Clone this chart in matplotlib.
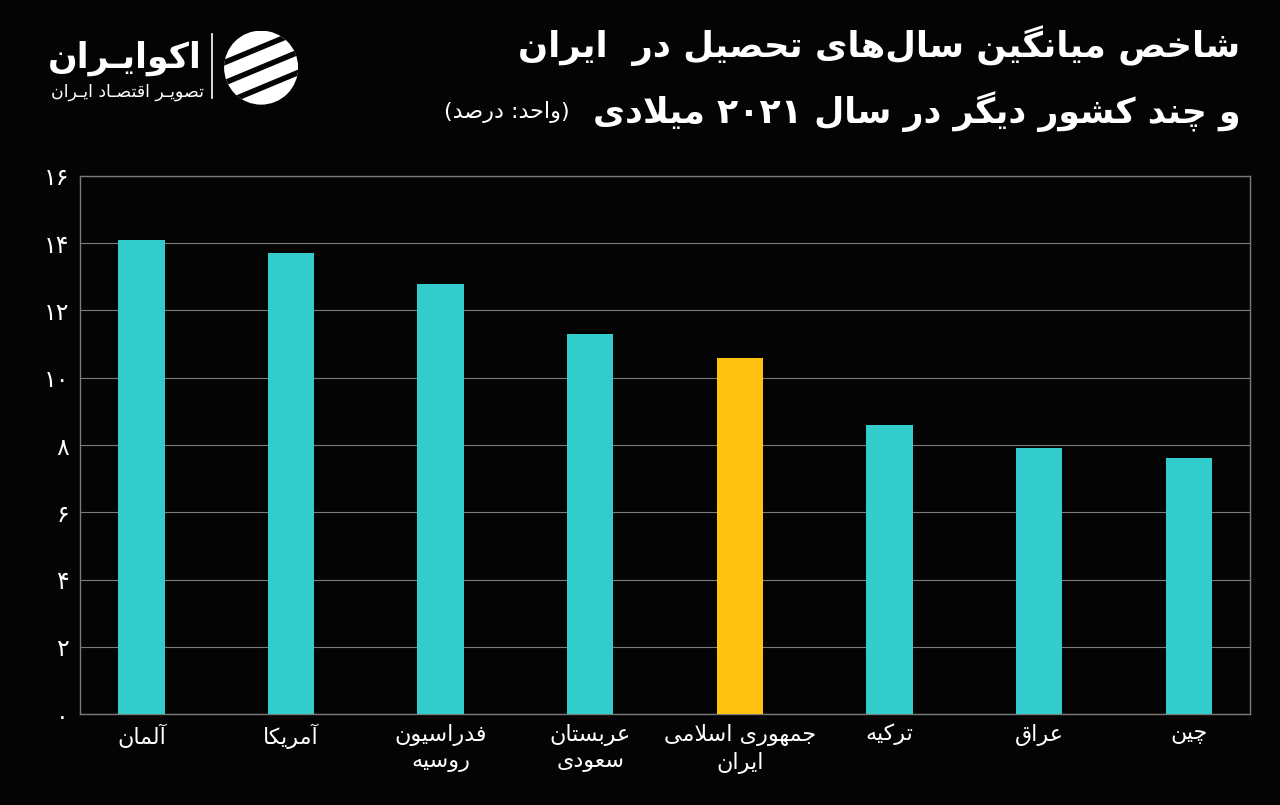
import matplotlib
matplotlib.use("Agg")
import matplotlib.pyplot as plt
from matplotlib.patches import Circle
from matplotlib.ticker import FuncFormatter

# data
countries = ["آلمان", "آمریکا", "فدراسیون\nروسیه", "عربستان\nسعودی",
             "جمهوری اسلامی\nایران", "ترکیه", "عراق", "چین"]
years = [14.1, 13.7, 12.8, 11.3, 10.6, 8.6, 7.9, 7.6]
highlight = "جمهوری اسلامی\nایران"
yticks = [0, 2, 4, 6, 8, 10, 12, 14, 16]

title1 = "شاخص میانگین سال‌های تحصیل در  ایران"
title2 = "و چند کشور دیگر در سال ۲۰۲۱ میلادی"
unit = "(واحد: درصد)"
brand = "اکوایـران"
brand_sub = "تصویـر اقتصـاد ایـران"

BG = "#040404"
TEAL = "#33CCCC"
GOLD = "#FFC20E"
GRID = "#7a7a7a"

# --- tiny arabic/persian shaper (matplotlib has no shaping / bidi) ---
# isolated, final, initial, medial
FORMS = {
    "\u0622": (0xFE81, 0xFE82, None, None),
    "\u0623": (0xFE83, 0xFE84, None, None),
    "\u0627": (0xFE8D, 0xFE8E, None, None),
    "\u0628": (0xFE8F, 0xFE90, 0xFE91, 0xFE92),
    "\u0629": (0xFE93, 0xFE94, None, None),
    "\u062A": (0xFE95, 0xFE96, 0xFE97, 0xFE98),
    "\u062B": (0xFE99, 0xFE9A, 0xFE9B, 0xFE9C),
    "\u062C": (0xFE9D, 0xFE9E, 0xFE9F, 0xFEA0),
    "\u062D": (0xFEA1, 0xFEA2, 0xFEA3, 0xFEA4),
    "\u062E": (0xFEA5, 0xFEA6, 0xFEA7, 0xFEA8),
    "\u062F": (0xFEA9, 0xFEAA, None, None),
    "\u0630": (0xFEAB, 0xFEAC, None, None),
    "\u0631": (0xFEAD, 0xFEAE, None, None),
    "\u0632": (0xFEAF, 0xFEB0, None, None),
    "\u0633": (0xFEB1, 0xFEB2, 0xFEB3, 0xFEB4),
    "\u0634": (0xFEB5, 0xFEB6, 0xFEB7, 0xFEB8),
    "\u0635": (0xFEB9, 0xFEBA, 0xFEBB, 0xFEBC),
    "\u0636": (0xFEBD, 0xFEBE, 0xFEBF, 0xFEC0),
    "\u0637": (0xFEC1, 0xFEC2, 0xFEC3, 0xFEC4),
    "\u0638": (0xFEC5, 0xFEC6, 0xFEC7, 0xFEC8),
    "\u0639": (0xFEC9, 0xFECA, 0xFECB, 0xFECC),
    "\u063A": (0xFECD, 0xFECE, 0xFECF, 0xFED0),
    "\u0640": (0x0640, 0x0640, 0x0640, 0x0640),
    "\u0641": (0xFED1, 0xFED2, 0xFED3, 0xFED4),
    "\u0642": (0xFED5, 0xFED6, 0xFED7, 0xFED8),
    "\u0643": (0xFED9, 0xFEDA, 0xFEDB, 0xFEDC),
    "\u0644": (0xFEDD, 0xFEDE, 0xFEDF, 0xFEE0),
    "\u0645": (0xFEE1, 0xFEE2, 0xFEE3, 0xFEE4),
    "\u0646": (0xFEE5, 0xFEE6, 0xFEE7, 0xFEE8),
    "\u0647": (0xFEE9, 0xFEEA, 0xFEEB, 0xFEEC),
    "\u0648": (0xFEED, 0xFEEE, None, None),
    "\u0649": (0xFEEF, 0xFEF0, None, None),
    "\u064A": (0xFEF1, 0xFEF2, 0xFEF3, 0xFEF4),
    "\u067E": (0xFB56, 0xFB57, 0xFB58, 0xFB59),
    "\u0686": (0xFB7A, 0xFB7B, 0xFB7C, 0xFB7D),
    "\u0698": (0xFB8A, 0xFB8B, None, None),
    "\u06A9": (0xFB8E, 0xFB8F, 0xFB90, 0xFB91),
    "\u06AF": (0xFB92, 0xFB93, 0xFB94, 0xFB95),
    "\u06CC": (0xFBFC, 0xFBFD, 0xFBFE, 0xFBFF),
}
LAM_ALEF = {"\u0627": (0xFEFB, 0xFEFC), "\u0622": (0xFEF5, 0xFEF6)}
MIRROR = {"(": ")", ")": "("}


def dual(c):
    return c in FORMS and FORMS[c][2] is not None


def shape_line(s):
    out = []
    i = 0
    while i < len(s):
        c = s[i]
        prev = s[i - 1] if i > 0 else ""
        if c not in FORMS:
            if c != "\u200c":
                out.append(c)
            i += 1
            continue
        jp = dual(prev)
        nxt = s[i + 1] if i + 1 < len(s) else ""
        if c == "\u0644" and nxt in LAM_ALEF:
            out.append(chr(LAM_ALEF[nxt][1 if jp else 0]))
            i += 2
            continue
        jn = dual(c) and nxt in FORMS
        iso, fin, ini, med = FORMS[c]
        if jp and jn:
            g = med
        elif jp:
            g = fin
        elif jn:
            g = ini
        else:
            g = iso
        out.append(chr(g))
        i += 1
    # visual order: reverse, but keep digit runs left-to-right
    vis = [MIRROR.get(ch, ch) for ch in reversed(out)]
    res, run = [], []
    for ch in vis:
        if ch.isdigit():
            run.append(ch)
        else:
            res.extend(reversed(run))
            run = []
            res.append(ch)
    res.extend(reversed(run))
    return "".join(res)


def fa(s):
    return "\n".join(shape_line(line) for line in s.split("\n"))


def fa_num(v, pos=None):
    return str(int(v)).translate(str.maketrans("0123456789", "۰۱۲۳۴۵۶۷۸۹"))


plt.rcParams["font.family"] = ["DejaVu Sans"]

fig = plt.figure(figsize=(12.8, 8.05), dpi=100, facecolor=BG)
ax = fig.add_axes([0.0625, 0.113, 0.9141, 0.6684], facecolor=BG)

x = list(range(len(countries)))
colors = [GOLD if c == highlight else TEAL for c in countries]
ax.bar(x, years, width=0.31, color=colors, zorder=3)

ax.set_xlim(-0.41, len(countries) - 1 + 0.41)
ax.set_ylim(0, 16)
ax.set_yticks(yticks)
ax.yaxis.set_major_formatter(FuncFormatter(fa_num))
ax.set_xticks(x)
ax.set_xticklabels([fa(c) for c in countries], fontsize=16, color="white",
                   linespacing=1.35, va="top")
ax.tick_params(axis="x", length=0, pad=7)
ax.tick_params(axis="y", length=0, pad=8, labelsize=17, labelcolor="white")
ax.grid(axis="y", color=GRID, linewidth=0.8, zorder=0)
ax.set_axisbelow(True)
for sp in ax.spines.values():
    sp.set_color(GRID)
    sp.set_linewidth(1.0)

# title
fig.text(0.969, 0.944, fa(title1), ha="right", va="center", fontsize=25.5,
         fontweight="bold", color="white")
fig.text(0.969, 0.862, fa(title2), ha="right", va="center", fontsize=25,
         fontweight="bold", color="white")
fig.text(0.347, 0.861, fa(unit), ha="left", va="center", fontsize=16,
         color="white")

# brand
fig.text(0.158, 0.928, fa(brand), ha="right", va="center", fontsize=25,
         fontweight="bold", color="white")
fig.text(0.159, 0.886, fa(brand_sub), ha="right", va="center", fontsize=12.5,
         color="white")
fig.add_artist(plt.Line2D([0.166, 0.166], [0.878, 0.958], color="white",
                          linewidth=1.2, transform=fig.transFigure))
logo = fig.add_axes([0.175, 0.87, 0.058, 0.092])
logo.set_xlim(-1, 1)
logo.set_ylim(-1, 1)
logo.set_aspect("equal")
logo.axis("off")
logo.add_patch(Circle((0, 0), 1, facecolor="white", edgecolor="none"))
for off in (-0.55, 0.0, 0.55):
    ln, = logo.plot([-1.2, 1.2], [off - 0.5, off + 0.5], color=BG,
                    linewidth=4, solid_capstyle="butt")
    ln.set_clip_path(logo.patches[0])

fig.savefig("out.png", dpi=100, facecolor=BG)
